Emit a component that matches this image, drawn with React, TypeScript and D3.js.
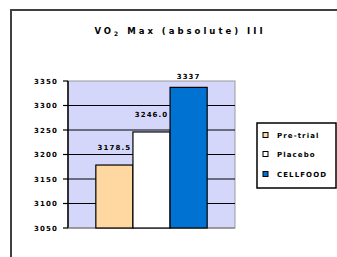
import React from "react";
import * as d3 from "d3";

const seriesNames = ["Pre-trial", "Placebo", "CELLFOOD"];
const seriesValues = [3178.5, 3246.0, 3337];
const valueLabels = ["3178.5", "3246.0", "3337"];
const yTicks = [3050, 3100, 3150, 3200, 3250, 3300, 3350];
const seriesColors = ["#ffd7a0", "#ffffff", "#0073d2"];

const W = 337;
const H = 257;
const plot = { left: 68, right: 235, top: 81, bottom: 228 };
const font = "'DejaVu Sans', Verdana, sans-serif";

export default function App() {
  const yScale = d3.scaleLinear().domain([3050, 3350]).range([plot.bottom, plot.top]);

  // one category, gap width 50%
  const catScale = d3.scaleBand().domain(["VO2"]).range([plot.left, plot.right]).paddingInner(0).paddingOuter(0.25);
  const x0 = catScale("VO2") as number;
  const xScale = d3.scaleBand().domain(seriesNames).range([x0, x0 + catScale.bandwidth()]).padding(0);

  const legendItems = [135, 154, 174];

  return (
    <svg width={W} height={H} style={{ position: "absolute", left: 0, top: 0 }}>
      <rect x={0} y={0} width={W} height={H} fill="#fff" />
      {/* outer chart frame, runs off the page */}
      <rect x={11} y={10} width={340} height={270} fill="none" stroke="#404040" strokeWidth={2} />

      <text x={180} y={34} textAnchor="middle" fontFamily={font} fontWeight="bold" fontSize={8.5} letterSpacing={3} fill="#000">
        VO<tspan fontSize={6} dy={2}>2</tspan><tspan dy={-2}> Max (absolute) III</tspan>
      </text>

      {/* plot area */}
      <rect x={plot.left} y={plot.top} width={plot.right - plot.left} height={plot.bottom - plot.top} fill="#d5d7fa" stroke="#9a9a9a" strokeWidth={1} />

      {yTicks.map((t) => (
        <g key={t}>
          {t > 3050 && t < 3350 && (
            <line x1={plot.left} x2={plot.right} y1={yScale(t)} y2={yScale(t)} stroke="#000" strokeWidth={1.2} />
          )}
          <line x1={plot.left - 5} x2={plot.left} y1={yScale(t)} y2={yScale(t)} stroke="#000" strokeWidth={1.2} />
          <text x={58} y={yScale(t) + 2.5} textAnchor="end" fontFamily={font} fontWeight="bold" fontSize={7} letterSpacing={1.1} fill="#000">
            {t}
          </text>
        </g>
      ))}
      <line x1={plot.left} x2={plot.left} y1={plot.top} y2={plot.bottom} stroke="#000" strokeWidth={1.5} />
      <line x1={plot.left} x2={plot.right} y1={plot.bottom} y2={plot.bottom} stroke="#707070" strokeWidth={1} />

      {seriesNames.map((s, i) => {
        const x = xScale(s) as number;
        const yTop = yScale(seriesValues[i]);
        const ly = Math.max(yTop - 15, plot.top - 2);
        return (
          <g key={s}>
            <rect x={x} y={yTop} width={xScale.bandwidth()} height={plot.bottom - yTop} fill={seriesColors[i]} stroke="#000" strokeWidth={1.2} />
            <text x={x + xScale.bandwidth() / 2} y={ly} textAnchor="middle" fontFamily={font} fontWeight="bold" fontSize={7} letterSpacing={1.1} fill="#000">
              {valueLabels[i]}
            </text>
          </g>
        );
      })}

      {/* legend */}
      <rect x={257} y={123} width={79} height={65} fill="#fff" stroke="#000" strokeWidth={1.5} />
      {seriesNames.map((s, i) => (
        <g key={s}>
          <rect x={263} y={legendItems[i] - 2.5} width={5} height={5} fill={seriesColors[i]} stroke="#000" strokeWidth={1} />
          <text x={277} y={legendItems[i] + 2.5} fontFamily={font} fontWeight="bold" fontSize={7} letterSpacing={1.1} fill="#000">
            {s}
          </text>
        </g>
      ))}
    </svg>
  );
}
